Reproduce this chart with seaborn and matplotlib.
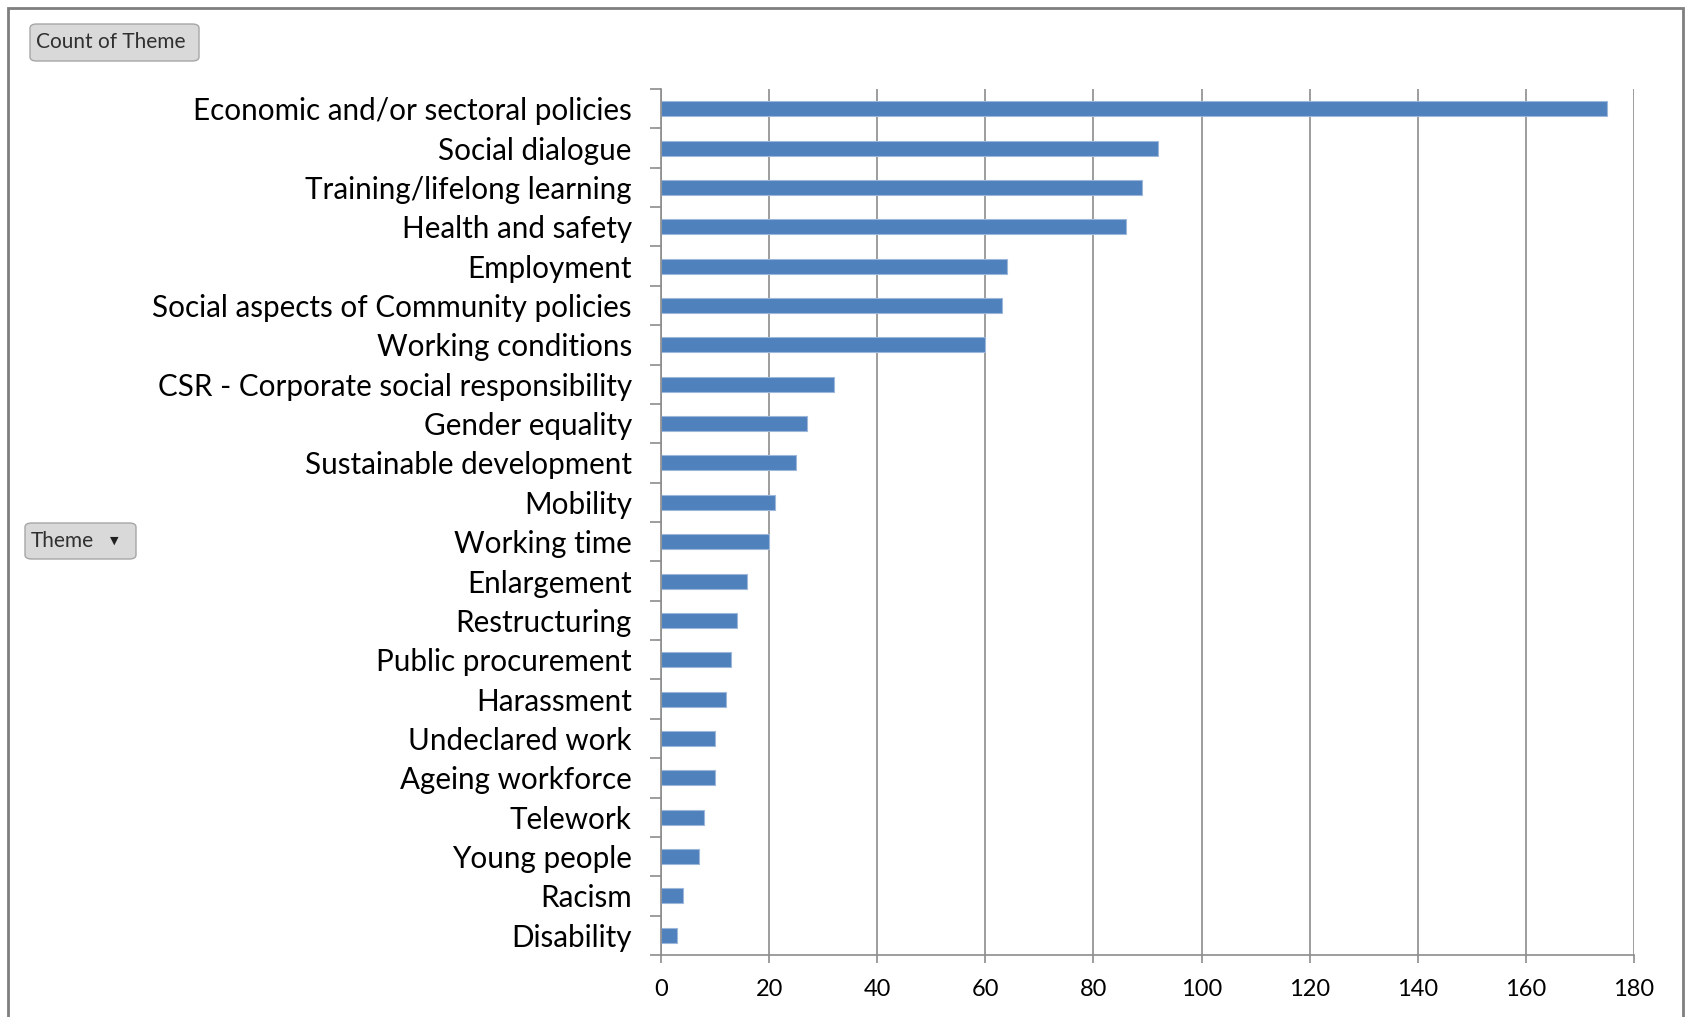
import matplotlib
matplotlib.use("Agg")
import matplotlib.pyplot as plt
import seaborn as sns
import pandas as pd
import numpy as np
from matplotlib.patches import FancyBboxPatch, Rectangle

themes = [
    "Economic and/or sectoral policies", "Social dialogue", "Training/lifelong learning",
    "Health and safety", "Employment", "Social aspects of Community policies",
    "Working conditions", "CSR - Corporate social responsibility", "Gender equality",
    "Sustainable development", "Mobility", "Working time", "Enlargement",
    "Restructuring", "Public procurement", "Harassment", "Undeclared work",
    "Ageing workforce", "Telework", "Young people", "Racism", "Disability",
]
counts = [175, 92, 89, 86, 64, 63, 60, 32, 27, 25, 21, 20, 16, 14, 13, 12, 10, 10, 8, 7, 4, 3]
xticks = [0, 20, 40, 60, 80, 100, 120, 140, 160, 180]

df = pd.DataFrame({"Theme": themes, "Count": counts})

sns.set_theme(style="white")
plt.rcParams["font.family"] = ["Lato", "DejaVu Sans"]

W, H = 1685, 1017
fig = plt.figure(figsize=(W / 100, H / 100), dpi=100)
ax = fig.add_axes([661 / W, (H - 955) / H, (1634 - 661) / W, (955 - 89) / H])

bar_color = "#4F81BD"
sns.barplot(data=df, x="Count", y="Theme", orient="h", color=bar_color,
            width=0.38, edgecolor="#9DB7DA", linewidth=0.8, ax=ax, saturation=1)

ax.set_xlim(0, 180)
ax.set_ylim(len(themes) - 0.5, -0.5)
ax.set_xticks(xticks)
ax.set_xticklabels([str(v) for v in xticks])
ax.set_xlabel("")
ax.set_ylabel("")

grid_c = "#8C8C8C"
ax.set_axisbelow(True)
ax.xaxis.grid(True, color=grid_c, linewidth=1.2)
ax.yaxis.grid(False)
for s in ["top", "right"]:
    ax.spines[s].set_visible(False)
for s in ["left", "bottom"]:
    ax.spines[s].set_color(grid_c)
    ax.spines[s].set_linewidth(1.2)

ax.set_yticks(np.arange(len(themes) + 1) - 0.5, minor=True)
ax.tick_params(axis="y", which="major", length=0, pad=21, labelsize=21.3, labelcolor="black")
ax.tick_params(axis="y", which="minor", length=8, width=1.2, color=grid_c, left=True)
ax.tick_params(axis="x", which="major", length=6, width=1.2, color=grid_c, bottom=True,
               pad=11, labelsize=17, labelcolor="black")

# outer frame
fig.patches.append(Rectangle((8 / W, -0.05), (1683 - 8) / W, (H - 8) / H + 0.05,
                             transform=fig.transFigure, fill=False,
                             edgecolor="#7F7F7F", linewidth=2))

def button(x0, y0, x1, y1, text, arrow=False):
    fig.patches.append(FancyBboxPatch((x0 / W, 1 - y1 / H), (x1 - x0) / W, (y1 - y0) / H,
                                      boxstyle="round,pad=0,rounding_size=0.004",
                                      transform=fig.transFigure, facecolor="#D9D9D9",
                                      edgecolor="#A6A6A6", linewidth=1))
    fig.text((x0 + 6) / W, 1 - (y0 + y1) / 2 / H, text, fontsize=15, color="#303030",
             va="center", ha="left")
    if arrow:
        fig.text((x1 - 22) / W, 1 - (y0 + y1) / 2 / H, "▼", fontsize=8, color="#202020",
                 va="center", ha="center", family=["DejaVu Sans"])

button(30, 24, 199, 61, "Count of Theme")
button(25, 523, 136, 559, "Theme", arrow=True)

fig.savefig("out.png", dpi=100, facecolor="white")
